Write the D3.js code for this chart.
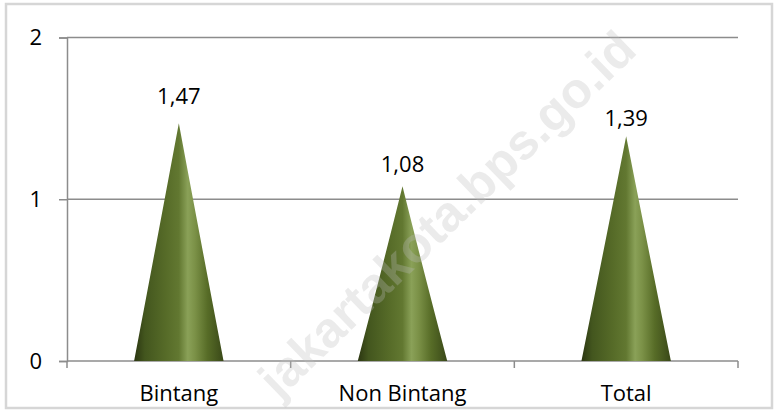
<!DOCTYPE html>
<html>
<head>
<meta charset="utf-8">
<script src="https://cdn.jsdelivr.net/npm/d3@7"></script>
<style>
  html, body { margin: 0; padding: 0; background: #fff; }
  svg { display: block; }
</style>
</head>
<body>
<svg id="chart" width="775" height="411"></svg>
<script>
// Data
const categories = ["Bintang", "Non Bintang", "Total"];
const values = [1.47, 1.08, 1.39];
const valueLabels = ["1,47", "1,08", "1,39"];
const yTicks = [0, 1, 2];
const watermarkText = "jakartakota.bps.go.id";

const W = 775, H = 411;
const plot = { left: 67, right: 738, top: 37.5, bottom: 361 };
const font = "'Open Sans', 'Liberation Sans', sans-serif";

const svg = d3.select("#chart");

// Cone shading: dark edges, olive body, light streak right of centre
const defs = svg.append("defs");
const grad = defs.append("linearGradient")
  .attr("id", "coneShade")
  .attr("x1", "0").attr("y1", "0").attr("x2", "1").attr("y2", "0");
[
  [0.00, "#2b3611"],
  [0.12, "#43561e"],
  [0.35, "#566b28"],
  [0.50, "#627831"],
  [0.60, "#8aa158"],
  [0.68, "#7b9147"],
  [0.82, "#576c27"],
  [1.00, "#394818"]
].forEach(([o, c]) => grad.append("stop").attr("offset", o).attr("stop-color", c));

// Outer frame
svg.append("rect")
  .attr("x", 6).attr("y", 4)
  .attr("width", 766).attr("height", 404)
  .attr("fill", "#fff")
  .attr("stroke", "#d6d6d6")
  .attr("stroke-width", 2.5);

const x = d3.scaleBand().domain(categories).range([plot.left, plot.right]).padding(0);
const y = d3.scaleLinear().domain([0, 2]).range([plot.bottom, plot.top]);

const gridColor = "#8c8c8c";

// Horizontal gridlines
svg.append("g")
  .selectAll("line")
  .data(yTicks.filter(t => t > 0))
  .join("line")
  .attr("x1", plot.left).attr("x2", plot.right)
  .attr("y1", d => y(d)).attr("y2", d => y(d))
  .attr("stroke", gridColor)
  .attr("stroke-width", 1.5);

// Y axis
const yAxis = svg.append("g")
  .attr("transform", `translate(${plot.left},0)`)
  .call(d3.axisLeft(y).tickValues(yTicks).tickSize(8).tickPadding(17).tickFormat(d3.format("d")));
yAxis.select(".domain").attr("stroke", gridColor).attr("stroke-width", 1.5);
yAxis.selectAll(".tick line").attr("stroke", gridColor).attr("stroke-width", 1.5);
yAxis.selectAll(".tick text")
  .attr("fill", "#000")
  .style("font-family", font)
  .style("font-size", "22px");

// X axis with boundary ticks between categories
const xAxisG = svg.append("g").attr("transform", `translate(0,${plot.bottom})`);
xAxisG.append("line")
  .attr("x1", plot.left).attr("x2", plot.right)
  .attr("stroke", gridColor).attr("stroke-width", 1.5);
const bounds = categories.map(c => x(c)).concat([x(categories[categories.length - 1]) + x.bandwidth()]);
xAxisG.selectAll("line.bound")
  .data(bounds)
  .join("line")
  .attr("class", "bound")
  .attr("x1", d => d).attr("x2", d => d)
  .attr("y1", 0).attr("y2", 7)
  .attr("stroke", gridColor).attr("stroke-width", 1.5);
xAxisG.selectAll("text")
  .data(categories)
  .join("text")
  .attr("x", d => x(d) + x.bandwidth() / 2)
  .attr("y", 40)
  .attr("text-anchor", "middle")
  .style("font-family", font)
  .style("font-size", "22px")
  .attr("fill", "#000")
  .text(d => d);

// Cones
const coneRatio = 0.4;
svg.append("g")
  .selectAll("path")
  .data(categories.map((c, i) => ({ c, v: values[i] })))
  .join("path")
  .attr("d", d => {
    const cx = x(d.c) + x.bandwidth() / 2;
    const hw = x.bandwidth() * coneRatio / 2;
    const top = y(d.v), base = y(0);
    return `M${cx - hw},${base} Q${cx - hw * 0.52},${(top + base) / 2 + 6} ${cx},${top} Q${cx + hw * 0.52},${(top + base) / 2 + 6} ${cx + hw},${base} Z`;
  })
  .attr("fill", "url(#coneShade)");

// Value labels (perspective shifts them lower towards the right)
svg.append("g")
  .selectAll("text")
  .data(categories.map((c, i) => ({ c, v: values[i], label: valueLabels[i], i })))
  .join("text")
  .attr("x", d => x(d.c) + x.bandwidth() / 2)
  .attr("y", d => y(d.v) - 19 + d.i * 4.6)
  .attr("text-anchor", "middle")
  .style("font-family", font)
  .style("font-size", "22px")
  .attr("fill", "#000")
  .text(d => d.label);

// Watermark
svg.append("text")
  .attr("transform", "translate(447,214) rotate(-44)")
  .attr("text-anchor", "middle")
  .attr("dominant-baseline", "central")
  .style("font-family", "'Liberation Sans', Arial, sans-serif")
  .style("font-weight", "bold")
  .style("font-size", "50px")
  .attr("fill", "#bcbcbc")
  .attr("fill-opacity", 0.3)
  .text(watermarkText);
</script>
</body>
</html>
